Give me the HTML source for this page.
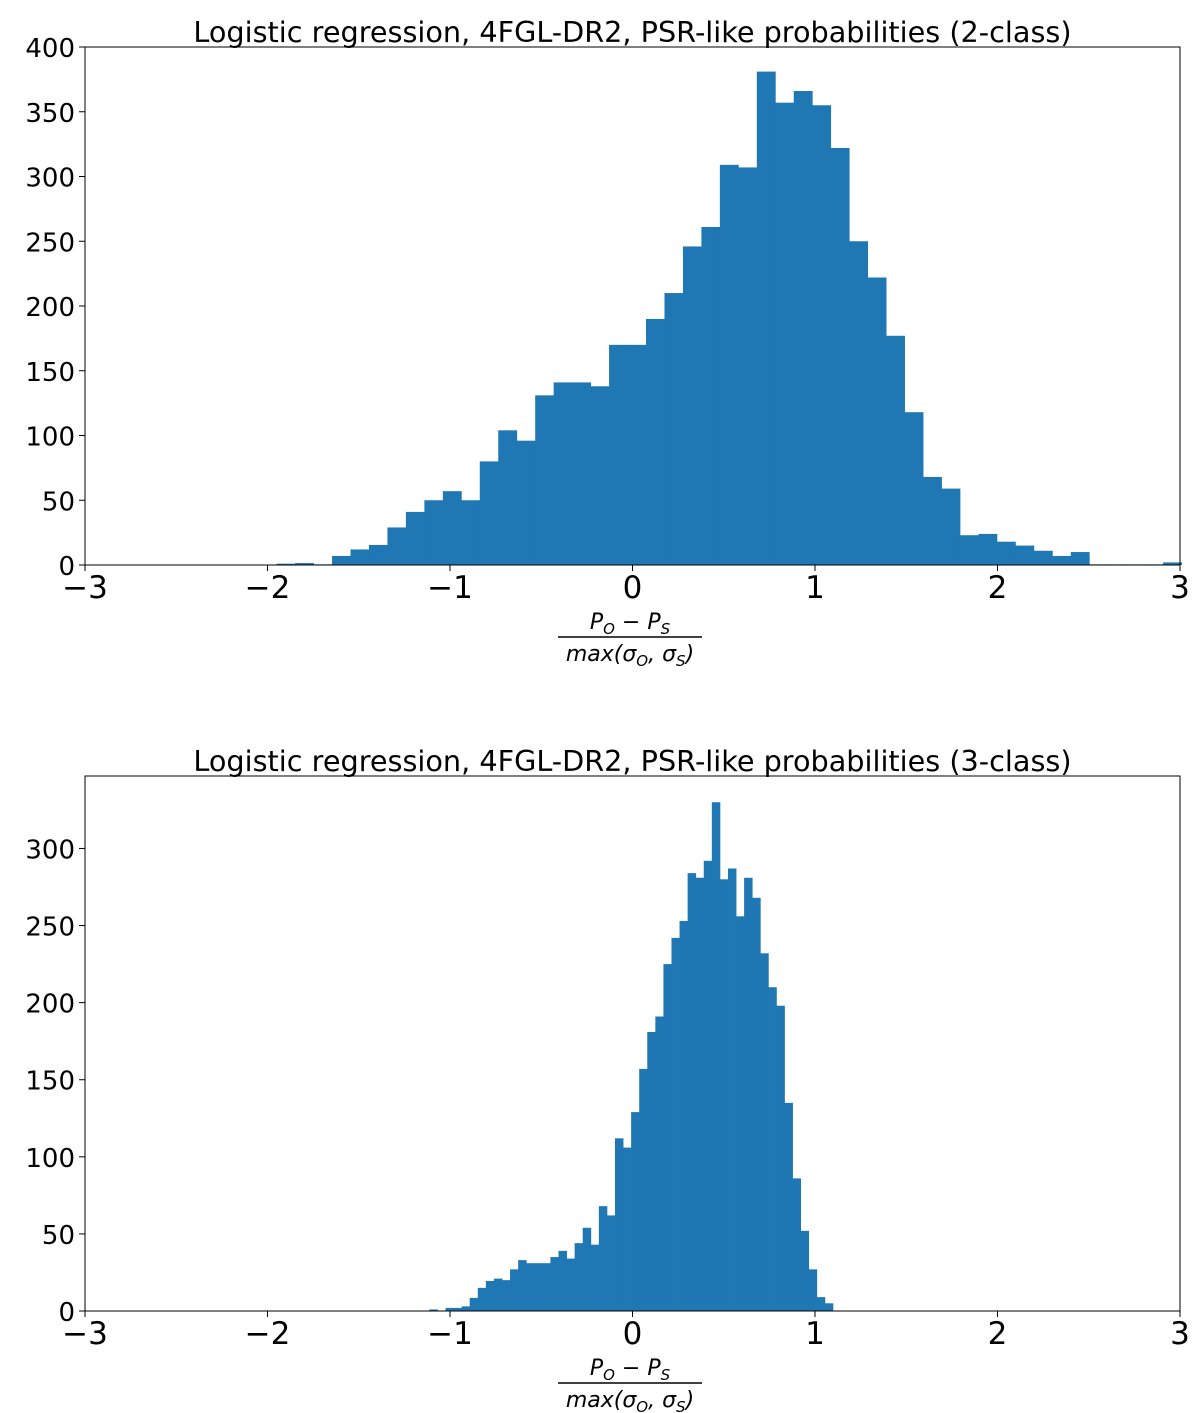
<!DOCTYPE html>
<html><head><meta charset="utf-8"><style>
body{margin:0;background:#fff;}
svg{display:block;font-family:"DejaVu Sans","Liberation Sans",sans-serif;}
</style></head><body>
<svg id="c" width="1200" height="1413"></svg>
<script>
const topStart = -1.950, topWidth = 0.1012;
const topCounts = [1,1.5,0.5,7,12,15.5,29,41,50,57,50,80,104,96,131,141,141,138,170,170,190,210,246,261,309,307,381,357,366,355,322,250,222,177,118,68,59,23,24,18,15,11,7,10,0.5,0.5,0.5,0.5,2];
const botStart = -1.113, botWidth = 0.04422;
const botCounts = [1,0,2,2,3,8.5,15,19.5,21,20,27,33,31,31,31,35,39,34,44,54,43,68,62,112,106,129,157,181,191,225,242,253,284,281,292,330,280,287,256,281,268,232,210,198,135,86,52,27,9,5];
const xTicks = [-3,-2,-1,0,1,2,3];
const topYTicks = [0,50,100,150,200,250,300,350,400];
const botYTicks = [0,50,100,150,200,250,300];
const titles = ["Logistic regression, 4FGL-DR2, PSR-like probabilities (2-class)","Logistic regression, 4FGL-DR2, PSR-like probabilities (3-class)"];

const NS="http://www.w3.org/2000/svg";
const svg=document.getElementById('c');
function mk(tag,attrs,parent){const e=document.createElementNS(NS,tag);for(const k in attrs)e.setAttribute(k,attrs[k]);(parent||svg).appendChild(e);return e;}

function panel(idx,top,bottom,ymax,start,width,counts,yTicks){
  const L=85,R=1180;
  const g=mk('g',{});
  
  
  const xs=v=>L+(v+3)/6*(R-L);
  const ys=v=>bottom-v/ymax*(bottom-top);
  counts.forEach((c,i)=>{
    if(c<=0)return;
    const x0=xs(start+i*width), x1=xs(start+(i+1)*width);
    const r=mk('rect',{x:x0,y:ys(c),width:x1-x0+0.4,height:bottom-ys(c),fill:'#1f77b4'},g);
    
    
  });
  const frame=mk('rect',{x:L,y:top,width:R-L,height:bottom-top,fill:'none',stroke:'#000','stroke-width':1},g);
  
  
  xTicks.forEach(t=>{
    const x=xs(t);
    mk('line',{x1:x,x2:x,y1:bottom,y2:bottom+6,stroke:'#000'},g);
    const tx=mk('text',{x:x,y:bottom+33,'text-anchor':'middle','font-size':31,fill:'#000'},g);
    tx.textContent=t<0?'\u2212'+(-t):String(t);
    
    
  });
  yTicks.forEach(t=>{
    const y=ys(t);
    mk('line',{x1:L-6,x2:L,y1:y,y2:y,stroke:'#000'},g);
    const tx=mk('text',{x:L-10,y:y+10,'text-anchor':'end','font-size':26,fill:'#000'},g);
    tx.textContent=String(t);
    
    
  });
  const ti=mk('text',{x:(L+R)/2,y:top-5,'text-anchor':'middle','font-size':28.7,fill:'#000'},g);
  ti.textContent=titles[idx];
  
  
  const cx=630;
  const num=mk('text',{x:cx,y:bottom+64,'text-anchor':'middle','font-size':22,'font-style':'italic',fill:'#000'},g);
  num.innerHTML='P<tspan font-size="15" dy="5">O</tspan><tspan dy="-5" font-style="normal"> \u2212 </tspan>P<tspan font-size="15" dy="5">S</tspan>';
  
  
  mk('line',{x1:cx-72,x2:cx+72,y1:bottom+72,y2:bottom+72,stroke:'#000','stroke-width':1.5},g);
  const den=mk('text',{x:cx,y:bottom+96,'text-anchor':'middle','font-size':22,'font-style':'italic',fill:'#000'},g);
  den.innerHTML='max(σ<tspan font-size="15" dy="5">O</tspan><tspan dy="-5">, σ</tspan><tspan font-size="15" dy="5">S</tspan><tspan dy="-5">)</tspan>';
  
  
}
panel(0,47,565,400,topStart,topWidth,topCounts,topYTicks);
panel(1,776,1311,347,botStart,botWidth,botCounts,botYTicks);
</script>
</body></html>
